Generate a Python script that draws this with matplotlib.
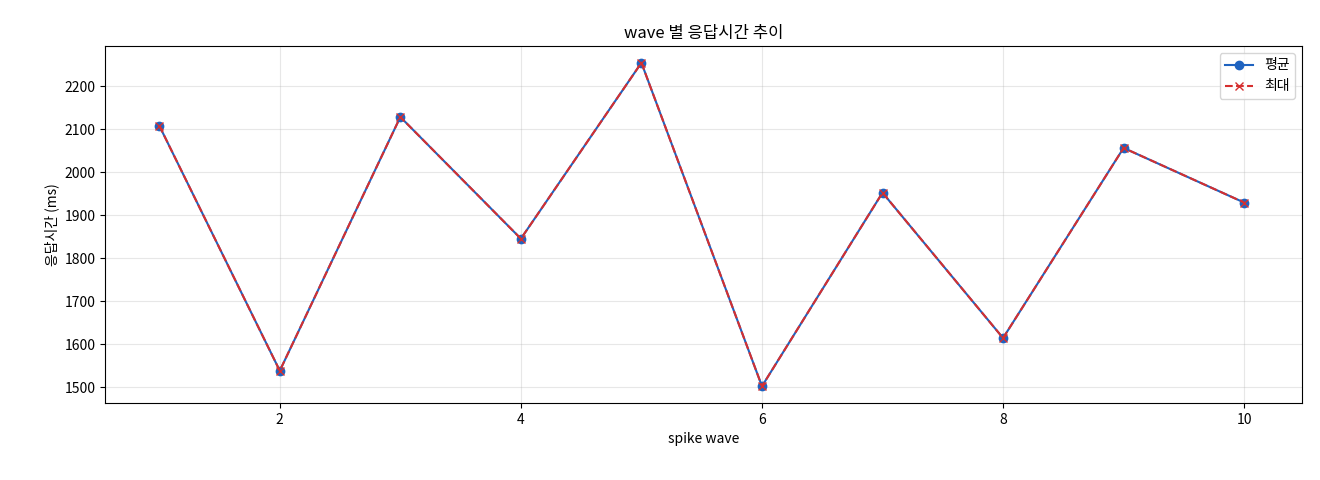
import matplotlib
matplotlib.use("Agg")
import matplotlib.pyplot as plt

plt.rcParams['font.family'] = ['Noto Sans CJK KR', 'DejaVu Sans']

waves = [1, 2, 3, 4, 5, 6, 7, 8, 9, 10]
avg_ms = [2108, 1538, 2128, 1845, 2254, 1502, 1952, 1614, 2056, 1929]
max_ms = [2108, 1538, 2128, 1845, 2254, 1502, 1952, 1614, 2056, 1929]

fig = plt.figure(figsize=(13.2, 4.8), dpi=100)
ax = fig.add_axes([105/1320, 77/480, 1197/1320, 357/480])
ax.plot(waves, avg_ms, marker='o', color='#1f63c0', label='평균', markersize=6)
ax.plot(waves, max_ms, marker='x', linestyle='--', color='#d62f2f', label='최대', markersize=6)
ax.set_xlim(0.55, 10.48)
ax.set_ylim(1463, 2293)
ax.set_xticks([2, 4, 6, 8, 10])
ax.set_yticks(range(1500, 2201, 100))
ax.grid(True, alpha=0.3)
ax.set_title('wave 별 응답시간 추이', fontsize=12)
ax.set_xlabel('spike wave', fontsize=10)
ax.set_ylabel('응답시간 (ms)', fontsize=10)
ax.tick_params(labelsize=10)
ax.legend(loc='upper right', fontsize=10)
fig.savefig('out.png', dpi=100)
